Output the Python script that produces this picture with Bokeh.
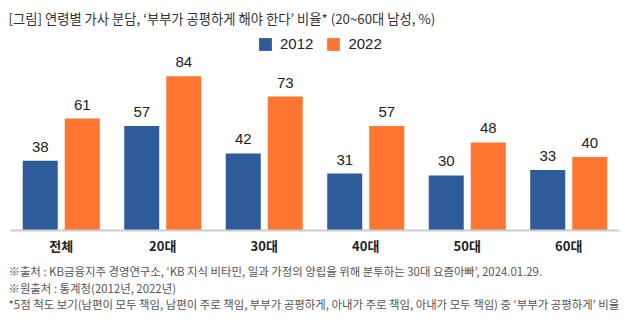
from bokeh.plotting import figure
from bokeh.models import FactorRange, Range1d, Legend, LegendItem, ColumnDataSource, Title
from bokeh.transform import dodge
from bokeh.core.properties import value
from bokeh.embed import file_html
from bokeh.resources import INLINE

categories = ["전체", "20대", "30대", "40대", "50대", "60대"]
v2012 = [38, 57, 42, 31, 30, 33]
v2022 = [61, 84, 73, 57, 48, 40]
series_names = ["2012", "2022"]

title_text = "[그림] 연령별 가사 분담, ‘부부가 공평하게 해야 한다’ 비율* (20~60대 남성, %)"
notes = [
    "※출처 : KB금융지주 경영연구소, ‘KB 지식 비타민, 일과 가정의 양립을 위해 분투하는 30대 요즘아빠’, 2024.01.29.",
    "※원출처 : 통계청(2012년, 2022년)",
    "*5점 척도 보기(남편이 모두 책임, 남편이 주로 책임, 부부가 공평하게, 아내가 주로 책임, 아내가 모두 책임) 중 ‘부부가 공평하게’ 비율",
]

BLUE = "#2E5B99"
ORANGE = "#FE7630"
KFONT = "Noto Sans CJK KR"
NFONT = "Liberation Sans"

src = ColumnDataSource(dict(cat=categories, a=v2012, b=v2022,
                            la=[str(v) for v in v2012], lb=[str(v) for v in v2022]))

p = figure(x_range=FactorRange(*categories, range_padding=0),
           y_range=Range1d(0, 109),
           width=639, height=324, frame_width=609, frame_height=200,
           min_border_left=10, min_border_right=20, min_border_top=30, min_border_bottom=10,
           output_backend="svg", toolbar_location=None, tools="")
p.outline_line_color = None
p.xgrid.visible = False
p.ygrid.visible = False
p.yaxis.visible = False
p.background_fill_color = "white"
p.border_fill_color = "white"

ra = p.vbar(x=dodge("cat", -0.207, range=p.x_range), top="a", width=0.345, source=src,
            fill_color=BLUE, line_color=None)
rb = p.vbar(x=dodge("cat", 0.207, range=p.x_range), top="b", width=0.345, source=src,
            fill_color=ORANGE, line_color=None)

p.text(x=dodge("cat", -0.207, range=p.x_range), y="a", text="la", source=src, y_offset=-14,
       text_align="center", text_baseline="middle",
       text_font=value(NFONT), text_font_size="15px", text_color="#222222")
p.text(x=dodge("cat", 0.207, range=p.x_range), y="b", text="lb", source=src, y_offset=-14,
       text_align="center", text_baseline="middle",
       text_font=value(NFONT), text_font_size="15px", text_color="#222222")

ax = p.xaxis[0]
ax.axis_line_color = "#cccccc"
ax.axis_line_width = 2
ax.major_tick_line_color = None
ax.minor_tick_line_color = None
ax.major_tick_out = 0
ax.major_label_standoff = 5
ax.major_label_text_font = KFONT
ax.major_label_text_font_size = "13px"
ax.major_label_text_font_style = "bold"
ax.major_label_text_color = "#222222"

legend = Legend(items=[LegendItem(label=series_names[0], renderers=[ra]),
                       LegendItem(label=series_names[1], renderers=[rb])],
                orientation="horizontal", location=(247, 178),
                glyph_width=16, glyph_height=16, label_height=16, label_standoff=7,
                spacing=12, padding=0, margin=0, border_line_color=None,
                background_fill_alpha=0, label_text_font=NFONT,
                label_text_font_size="15px", label_text_color="#222222")
p.add_layout(legend, "center")

p.title.text = title_text
p.title.text_font = KFONT
p.title.text_font_size = "13.3px"
p.title.text_font_style = "normal"
p.title.text_color = "#333333"
p.title.offset = -2
p.title.standoff = 6

p.add_layout(Title(text="\n".join(notes), text_font=KFONT, text_font_size="11.4px",
                   text_font_style="normal", text_color="#555555", text_line_height=1.06,
                   offset=-2, standoff=6), "below")

open("out.html", "w").write(file_html(p, INLINE))
